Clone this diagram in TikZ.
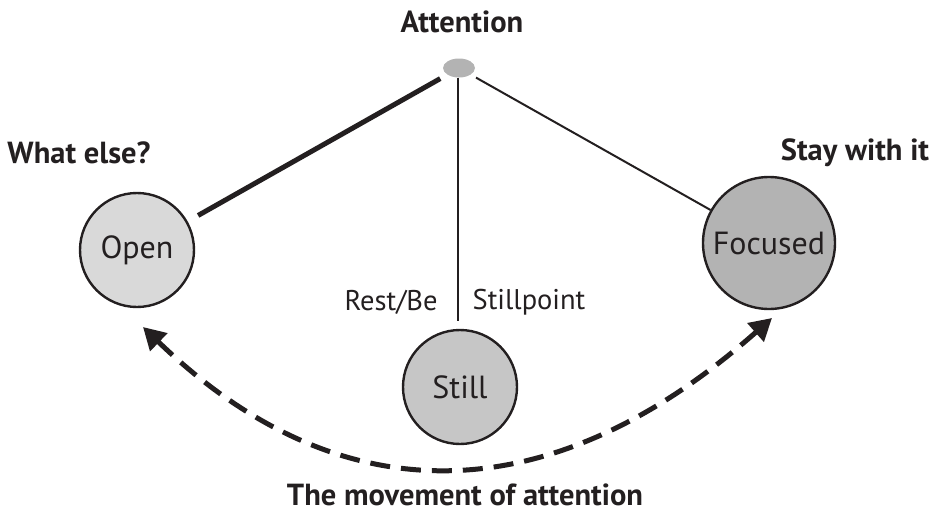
\documentclass[tikz,border=0pt]{standalone}
\usepackage{fontspec}
\setmainfont{PT Sans}
\usetikzlibrary{arrows.meta,shapes.geometric}
\definecolor{ink}{HTML}{231F20}
\definecolor{openfill}{HTML}{D9D9D9}
\definecolor{stillfill}{HTML}{C6C6C6}
\definecolor{focusfill}{HTML}{B3B3B3}
\tikzset{
  state/.style={circle, draw=ink, line width=2.4pt, inner sep=0pt, text=ink,
    font=\fontsize{32}{36}\selectfont},
  heading/.style={text=ink, inner sep=0pt, font=\fontsize{30.5}{34}\selectfont\bfseries},
  sidenote/.style={text=ink, inner sep=0pt, font=\fontsize{28.5}{32}\selectfont},
  movement/.style={draw=ink, line width=5pt, dash pattern=on 20pt off 11pt,
    {Triangle[length=22pt,width=24pt]}-{Triangle[length=22pt,width=24pt]}}
}
\begin{document}
\begin{tikzpicture}[x=1pt,y=-1pt]
  \useasboundingbox (0,0) rectangle (938,514);

  % apex of the three states
  \node[heading] (attn) at (462,22) {Attention};
  \node[ellipse, fill=focusfill, minimum width=32pt, minimum height=19pt, inner sep=0pt] (dot) at (459,68) {};

  % the three states
  \node[state, fill=openfill, minimum size=114pt] (open) at (137,250) {Open};
  \node[state, fill=stillfill, minimum size=114pt] (still) at (460,387) {Still};
  \node[state, fill=focusfill, minimum size=132pt] (focus) at (769,243) {Focused};

  % labels
  \node[heading] (what) at (79,153) {What else?};
  \node[heading] (stay) at (855,153) {Stay with it};
  \node[sidenote] (rest) at (391,302) {Rest/Be};
  \node[sidenote] (stillpt) at (529,302) {Stillpoint};
  \node[heading] (move) at (465,495) {The movement of attention};

  % branches from the apex
  \draw[ink, line width=5pt, shorten <=8pt, shorten >=12pt] (dot) -- (open);
  \draw[ink, line width=2.4pt, shorten >=8pt] (dot.south) ++(-1,0) coordinate (vtop) -- (vtop |- still.north);
  \draw[ink, line width=2pt, shorten <=6pt] (dot) -- (focus);

  % dashed arc between the outer states
  \coordinate (lt) at (143,327);
  \coordinate (rt) at (772,318);
  \draw[movement] (lt) .. controls (340,517) and (550,514) .. (rt);
\end{tikzpicture}
\end{document}
